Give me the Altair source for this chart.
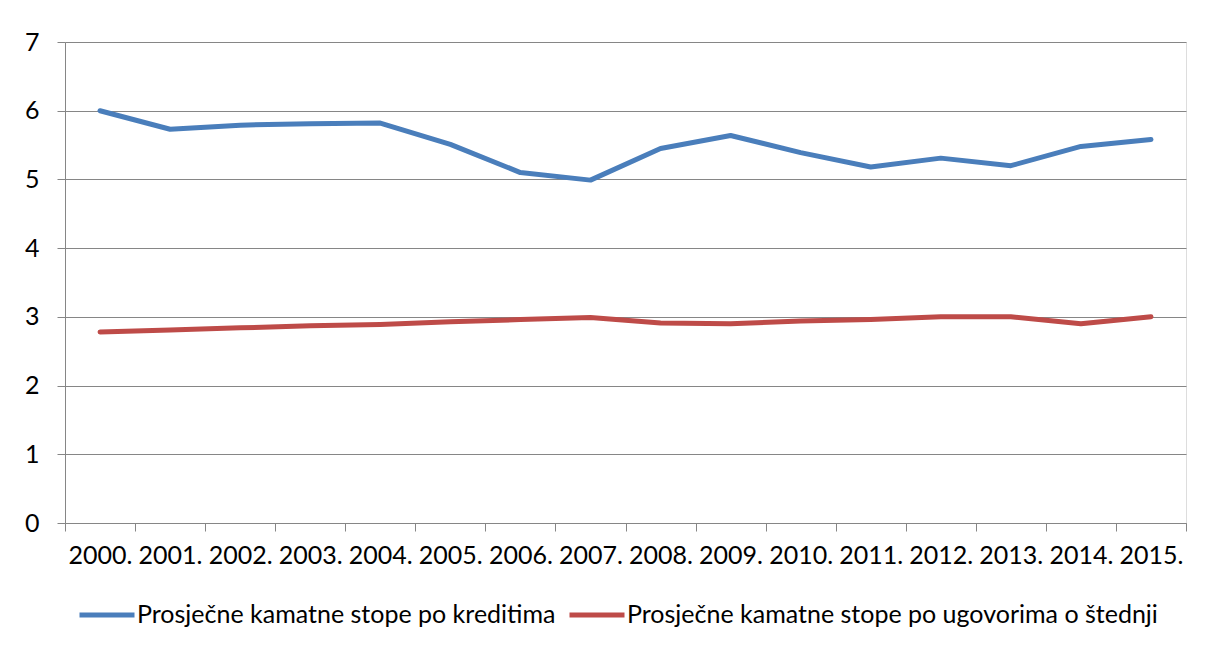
import altair as alt
import pandas as pd

years = ["2000.", "2001.", "2002.", "2003.", "2004.", "2005.", "2006.", "2007.",
         "2008.", "2009.", "2010.", "2011.", "2012.", "2013.", "2014.", "2015."]
series_names = ["Prosječne kamatne stope po kreditima",
                "Prosječne kamatne stope po ugovorima o štednji"]
krediti = [6.00, 5.73, 5.79, 5.81, 5.82, 5.51, 5.10, 4.99,
           5.45, 5.64, 5.39, 5.18, 5.31, 5.20, 5.48, 5.58]
stednja = [2.78, 2.81, 2.84, 2.87, 2.89, 2.93, 2.96, 2.99,
           2.91, 2.90, 2.94, 2.96, 3.00, 3.00, 2.90, 3.00]
colors = ["#4A7EBB", "#BE4B48"]

rows = []
for name, vals in zip(series_names, [krediti, stednja]):
    for i, (yr, v) in enumerate(zip(years, vals)):
        rows.append({"idx": i, "year": yr, "value": v, "series": name})
df = pd.DataFrame(rows)

n = len(years)
tick_vals = [i - 0.5 for i in range(n + 1)]
label_arr = "[" + ",".join("'" + y + "'" for y in years) + "]"
label_expr = f"datum.value < {n - 1} ? {label_arr}[datum.value + 0.5] : ''"

FONT = "Lato"
FS = 25
GRAY = "#868686"

chart = alt.Chart(df).mark_line(strokeWidth=5, strokeCap="round", strokeJoin="round").encode(
    x=alt.X("idx:Q",
            scale=alt.Scale(domain=[-0.5, n - 0.5], nice=False, zero=False),
            axis=alt.Axis(values=tick_vals, labelExpr=label_expr, labelOffset=35,
                          title=None, grid=False, tickSize=8, tickColor=GRAY,
                          domainColor=GRAY, labelFontSize=FS, labelFont=FONT,
                          labelColor="#000000", labelPadding=12, labelAlign="center",
                          labelFlush=False, labelOverlap=False)),
    y=alt.Y("value:Q",
            scale=alt.Scale(domain=[0, 7], nice=False),
            axis=alt.Axis(values=[0, 1, 2, 3, 4, 5, 6, 7], title=None, grid=True,
                          gridColor=GRAY, gridWidth=1.2, tickSize=8, tickColor=GRAY,
                          domainColor=GRAY, labelFontSize=FS, labelFont=FONT,
                          labelColor="#000000", labelPadding=18)),
    color=alt.Color("series:N",
                    scale=alt.Scale(domain=series_names, range=colors),
                    legend=alt.Legend(title=None, orient="none", direction="horizontal",
                                      legendX=12, legendY=543,
                                      symbolType="stroke", symbolSize=3025,
                                      symbolStrokeWidth=5, labelOffset=0,
                                      columnPadding=3, labelFontSize=FS,
                                      labelFont=FONT, labelColor="#000000",
                                      labelLimit=1000)),
).properties(
    width=1121,
    height=481,
    autosize=alt.AutoSizeParams(type="none"),
    padding={"left": 57, "top": 34, "right": 12, "bottom": 115},
).configure_view(stroke=None).configure(background="white")

chart.save("out.html", embed_options={"renderer": "svg", "actions": False})
